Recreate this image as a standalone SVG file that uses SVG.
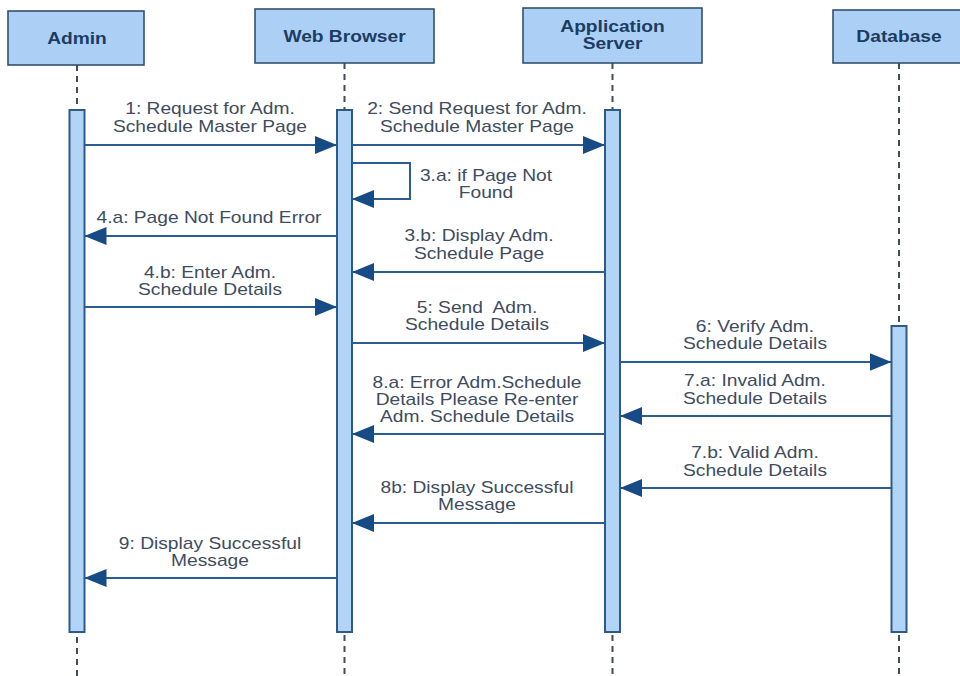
<svg xmlns="http://www.w3.org/2000/svg" width="960" height="676" viewBox="0 0 960 676">
<defs>
<style>
.box{fill:#acd0f5;stroke:#34506f;stroke-width:1.6}
.hdr{font-family:"Liberation Sans",Arial,sans-serif;font-weight:bold;font-size:16px;fill:#1d3c63;text-anchor:middle}
.life{stroke:#444c55;stroke-width:2;stroke-dasharray:6 5;fill:none}
.bar{fill:#b2d4f7;stroke:#2f5a86;stroke-width:2}
.msg{stroke:#2a5d94;stroke-width:2;fill:none;marker-end:url(#ah)}
.lbl{font-family:"Liberation Sans",Arial,sans-serif;font-size:16px;fill:#3e4c5e;text-anchor:middle}
</style>
<marker id="ah" markerUnits="userSpaceOnUse" markerWidth="22" markerHeight="18" refX="22" refY="9" orient="auto">
<path d="M0,0 L22,9 L0,18 Z" fill="#164b85"/>
</marker>
</defs>
<rect width="960" height="676" fill="#ffffff"/>

<g id="lifelines">
<line class="life" x1="77" y1="65" x2="77" y2="676"/>
<line class="life" x1="344.5" y1="63" x2="344.5" y2="676"/>
<line class="life" x1="612.5" y1="63" x2="612.5" y2="676"/>
<line class="life" x1="899" y1="63" x2="899" y2="676"/>
</g>

<g id="admin">
<rect class="box" x="8" y="11" width="136" height="54"/>
<text class="hdr" transform="translate(77,0) scale(1.2,1)" x="0" y="44">Admin</text>
<rect class="bar" x="69.5" y="110" width="15" height="522"/>
</g>
<g id="web-browser">
<rect class="box" x="255" y="9" width="179" height="54"/>
<text class="hdr" transform="translate(344.5,0) scale(1.2,1)" x="0" y="42">Web Browser</text>
<rect class="bar" x="337" y="110" width="15" height="522"/>
</g>
<g id="app-server">
<rect class="box" x="523" y="8" width="179" height="55"/>
<text class="hdr" transform="translate(612.5,0) scale(1.2,1)" x="0" y="32">Application</text>
<text class="hdr" transform="translate(612.5,0) scale(1.2,1)" x="0" y="49">Server</text>
<rect class="bar" x="605" y="110" width="15" height="522"/>
</g>
<g id="database">
<rect class="box" x="833" y="10" width="134" height="53"/>
<text class="hdr" transform="translate(899,0) scale(1.2,1)" x="0" y="42">Database</text>
<rect class="bar" x="891.5" y="326" width="15" height="306"/>
</g>

<g id="connectors">
<line class="msg" x1="84.5" y1="145" x2="337" y2="145"/>
<line class="msg" x1="352" y1="145" x2="605" y2="145"/>
<path class="msg" d="M352,163 H410 V199 H352"/>
<line class="msg" x1="337" y1="236" x2="84.5" y2="236"/>
<line class="msg" x1="605" y1="272" x2="352" y2="272"/>
<line class="msg" x1="84.5" y1="307" x2="337" y2="307"/>
<line class="msg" x1="352" y1="343" x2="605" y2="343"/>
<line class="msg" x1="620" y1="362" x2="891.5" y2="362"/>
<line class="msg" x1="891.5" y1="416" x2="620" y2="416"/>
<line class="msg" x1="605" y1="434" x2="352" y2="434"/>
<line class="msg" x1="891.5" y1="488" x2="620" y2="488"/>
<line class="msg" x1="605" y1="523" x2="352" y2="523"/>
<line class="msg" x1="337" y1="578" x2="84.5" y2="578"/>
</g>

<g id="labels">
<g transform="translate(210,0) scale(1.2,1)"><text class="lbl" x="0" y="114">1: Request for Adm.</text><text class="lbl" x="0" y="132">Schedule Master Page</text></g>
<g transform="translate(477,0) scale(1.2,1)"><text class="lbl" x="0" y="114">2: Send Request for Adm.</text><text class="lbl" x="0" y="132">Schedule Master Page</text></g>
<g transform="translate(486,0) scale(1.2,1)"><text class="lbl" x="0" y="181">3.a: if Page Not</text><text class="lbl" x="0" y="198">Found</text></g>
<g transform="translate(209,0) scale(1.2,1)"><text class="lbl" x="0" y="223">4.a: Page Not Found Error</text></g>
<g transform="translate(479,0) scale(1.2,1)"><text class="lbl" x="0" y="241">3.b: Display Adm.</text><text class="lbl" x="0" y="259">Schedule Page</text></g>
<g transform="translate(210,0) scale(1.2,1)"><text class="lbl" x="0" y="278" xml:space="preserve">4.b: Enter Adm.</text><text class="lbl" x="0" y="295">Schedule Details</text></g>
<g transform="translate(477,0) scale(1.2,1)"><text class="lbl" x="0" y="313" xml:space="preserve">5: Send  Adm.</text><text class="lbl" x="0" y="330">Schedule Details</text></g>
<g transform="translate(755,0) scale(1.2,1)"><text class="lbl" x="0" y="332">6: Verify Adm.</text><text class="lbl" x="0" y="349">Schedule Details</text></g>
<g transform="translate(755,0) scale(1.2,1)"><text class="lbl" x="0" y="386">7.a: Invalid Adm.</text><text class="lbl" x="0" y="404">Schedule Details</text></g>
<g transform="translate(477,0) scale(1.2,1)"><text class="lbl" x="0" y="388">8.a: Error Adm.Schedule</text><text class="lbl" x="0" y="405">Details Please Re-enter</text><text class="lbl" x="0" y="422">Adm. Schedule Details</text></g>
<g transform="translate(755,0) scale(1.2,1)"><text class="lbl" x="0" y="458">7.b: Valid Adm.</text><text class="lbl" x="0" y="476">Schedule Details</text></g>
<g transform="translate(477,0) scale(1.2,1)"><text class="lbl" x="0" y="493">8b: Display Successful</text><text class="lbl" x="0" y="510">Message</text></g>
<g transform="translate(210,0) scale(1.2,1)"><text class="lbl" x="0" y="549">9: Display Successful</text><text class="lbl" x="0" y="566">Message</text></g>
</g>
</svg>
